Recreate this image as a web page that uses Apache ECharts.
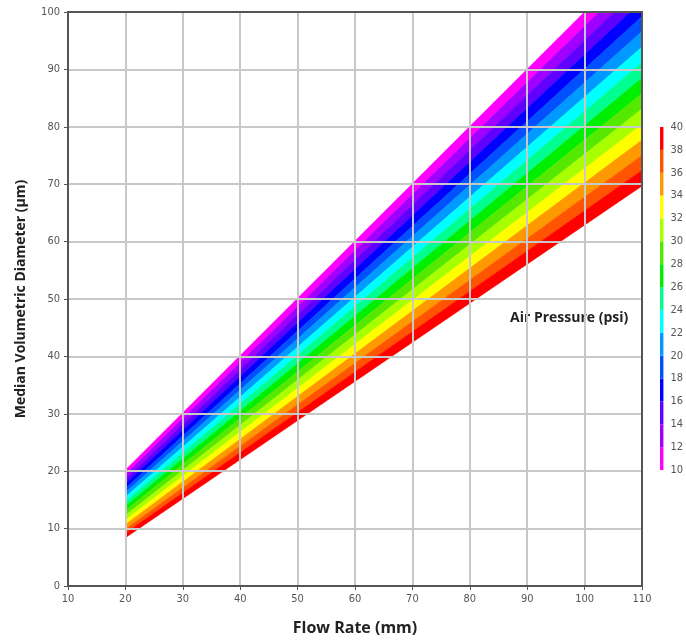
<!DOCTYPE html>
<html>
<head>
<meta charset="utf-8">
<script src="https://cdn.jsdelivr.net/npm/echarts@6/dist/echarts.min.js"></script>
<style>
  html, body { margin: 0; padding: 0; background: #fff; }
  #chart_container { width: 686px; height: 642px; }
</style>
</head>
<body>
<div id="chart_container"></div>
<script>
// band edges
const flowRange = [20, 110]
const pressures = [10, 12, 14, 16, 18, 20, 22, 24, 26, 28, 30, 32, 34, 36, 38, 40]
// diameter of each pressure contour at flow 20 and flow 110
const diamAtLeft = [20.2, 19.4, 18.6, 17.8, 17.0, 16.3, 15.5, 14.7, 13.9, 13.1, 12.3, 11.5, 10.7, 9.9, 9.2, 8.4]
const diamAtRight = [110.0, 107.3, 104.6, 101.9, 99.2, 96.6, 93.9, 91.2, 88.5, 85.8, 83.1, 80.4, 77.7, 75.0, 72.4, 69.7]
const bandColors = ["#ff00ff", "#a000ff", "#6000ff", "#0000ff", "#0050ff", "#0099ff", "#00ffff",
    "#00ff90", "#00ee00", "#55e800", "#a8ff00", "#ffff00", "#ff9900", "#ff5500", "#ff0000"]

const xTicks = [10, 110, 10]
const yTicks = [0, 100, 10]

const labelFont = "'Liberation Sans Narrow', 'DejaVu Sans Condensed', 'Liberation Sans', sans-serif"
const nameFont = "'Open Sans', 'Liberation Sans', sans-serif"

function buildBands(){
    let bands = []
    for (let i = 0; i < pressures.length - 1; i++){
        bands.push({
            value: [flowRange[0], flowRange[1], diamAtLeft[i], diamAtRight[i], diamAtLeft[i + 1], diamAtRight[i + 1], pressures[i], pressures[i + 1]],
            itemStyle: { color: bandColors[i] }
        })
    }
    return bands
}

function renderBand(params, api){
    let x0 = api.value(0), x1 = api.value(1)
    let pts = [
        api.coord([x0, api.value(2)]),
        api.coord([x1, api.value(3)]),
        api.coord([x1, api.value(5)]),
        api.coord([x0, api.value(4)])
    ]
    return {
        type: "polygon",
        shape: { points: pts },
        style: { fill: api.visual("color"), stroke: api.visual("color"), lineWidth: 0.6 }
    }
}

function renderKey(params, api){
    let a = api.coord([0, api.value(6)])
    let b = api.coord([1, api.value(7)])
    return {
        type: "rect",
        shape: { x: a[0], y: b[1], width: b[0] - a[0], height: a[1] - b[1] },
        style: { fill: api.visual("color") }
    }
}

function buildChart(){
    let chart = echarts.init(document.getElementById("chart_container"))
    let bands = buildBands()

    let option = {
        animation: false,
        backgroundColor: "#ffffff",
        grid: [
            { left: 68, top: 12, width: 574, height: 574, show: true, borderColor: "#555555", borderWidth: 2, z: 10 },
            { left: 660, top: 127, width: 6, height: 343 }
        ],
        xAxis: [
            {
                type: "value", gridIndex: 0, min: xTicks[0], max: xTicks[1], interval: xTicks[2], z: 5,
                name: "Flow Rate (mm)", nameLocation: "middle", nameGap: 34,
                nameTextStyle: { fontFamily: nameFont, fontWeight: "bold", fontSize: 16, color: "#222" },
                axisLine: { show: true, lineStyle: { color: "#555", width: 2 } },
                axisTick: { show: true, length: 4, lineStyle: { color: "#555" } },
                axisLabel: { fontFamily: labelFont, fontSize: 11, color: "#555", margin: 8 },
                splitLine: { show: true, lineStyle: { color: "#c8c8c8", width: 2 } }
            },
            { type: "value", gridIndex: 1, min: 0, max: 1, show: false }
        ],
        yAxis: [
            {
                type: "value", gridIndex: 0, min: yTicks[0], max: yTicks[1], interval: yTicks[2], z: 5,
                name: "Median Volumetric Diameter (µm)", nameLocation: "middle", nameGap: 40,
                nameTextStyle: { fontFamily: nameFont, fontWeight: "bold", fontSize: 14, color: "#222" },
                axisLine: { show: true, lineStyle: { color: "#555", width: 2 } },
                axisTick: { show: true, length: 4, lineStyle: { color: "#555" } },
                axisLabel: { fontFamily: labelFont, fontSize: 11, color: "#555", margin: 8 },
                splitLine: { show: true, lineStyle: { color: "#c8c8c8", width: 2 } }
            },
            {
                type: "value", gridIndex: 1, min: 10, max: 40, interval: 2, position: "right",
                axisLine: { show: false }, axisTick: { show: false }, splitLine: { show: false },
                axisLabel: { fontFamily: labelFont, fontSize: 11, color: "#555", margin: 7 }
            }
        ],
        graphic: [
            {
                type: "text", left: 510, top: 311,
                style: { text: "Air Pressure (psi)", font: "bold 14px " + nameFont, fill: "#222" }
            }
        ],
        series: [
            {
                name: "Air Pressure", type: "custom", xAxisIndex: 0, yAxisIndex: 0,
                clip: true, z: 1, renderItem: renderBand, data: bands,
                encode: { x: [0, 1], y: [2, 3, 4, 5] }
            },
            {
                name: "Key", type: "custom", xAxisIndex: 1, yAxisIndex: 1,
                renderItem: renderKey, data: bands,
                encode: { y: [6, 7] }
            }
        ]
    }
    chart.setOption(option)
}

buildChart()
</script>
</body>
</html>
